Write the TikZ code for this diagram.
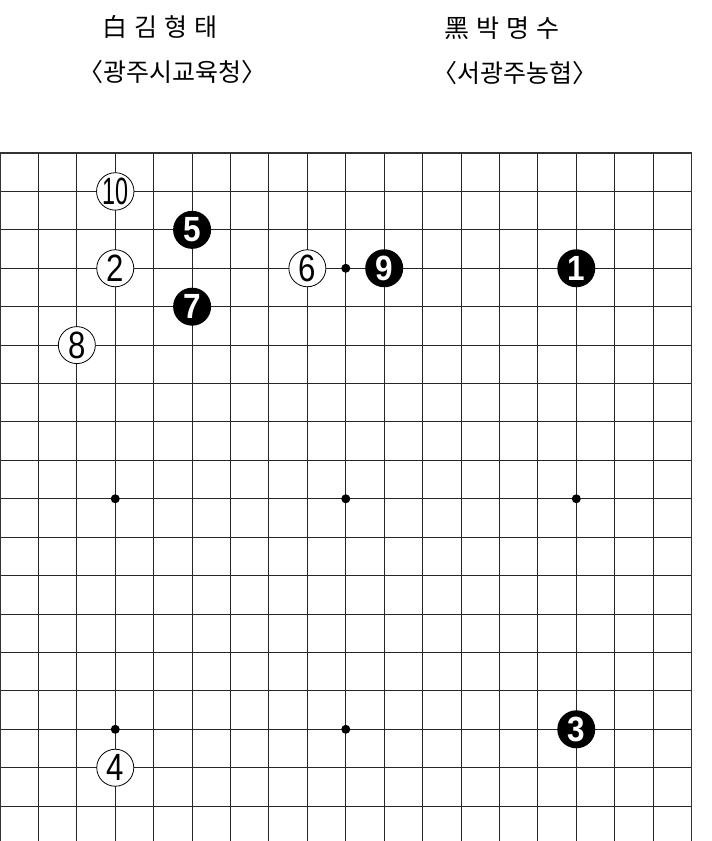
\documentclass[tikz,border=0pt]{standalone}
\usepackage{fontspec}
\usepackage{graphicx}
\newfontfamily\kr{Noto Sans CJK KR}
\newfontfamily\numw[FakeStretch=0.82]{Liberation Sans}
\newfontfamily\numb[FakeStretch=0.9]{Liberation Sans}
\begin{document}
\begin{tikzpicture}[x=1pt,y=-1pt,
  hdr/.style={font=\kr\fontsize{25}{29}\selectfont, inner sep=0, anchor=center},
  gridline/.style={line width=0.9pt, black!85},
  border/.style={line width=1.8pt, black!80},
  wstone/.style={circle, draw=black, line width=0.8pt, fill=white, minimum size=37pt, inner sep=0, font=\numw\fontsize{38}{38}\selectfont},
  bstone/.style={circle, fill=black, minimum size=38pt, inner sep=0, text=white, font=\numb\bfseries\fontsize{35}{35}\selectfont},
  stardot/.style={circle, fill=black, minimum size=9pt, inner sep=0}]
\useasboundingbox (0,0) rectangle (712,841);
\fill[white] (0,0) rectangle (712,841);
% headers
\node[hdr] (wname) at (160,27) {白\hspace{7pt}김\hspace{7pt}형\hspace{7pt}태};
\node[hdr] (wclub) at (172,72) {〈광주시교육청〉};
\node[hdr] (bname) at (501.5,28) {黑\hspace{7pt}박\hspace{7pt}명\hspace{7pt}수};
\node[hdr] (bclub) at (515,73) {〈서광주농협〉};
% board
\begin{scope}[shift={(0,153)}, x=38.42pt, y=-38.42pt]
  \foreach \i in {1,...,17} \draw[gridline] (\i,0) -- (\i,17.95);
  \foreach \j in {1,...,17} \draw[gridline] (0,\j) -- (18,\j);
  \draw[border] (0,17.95) -- (0,0) -- (18,0) -- (18,17.95);
  \foreach \c/\r/\n in {9/3/s1, 3/9/s2, 9/9/s3, 15/9/s4, 3/15/s5, 9/15/s6}
    \node[stardot] (\n) at (\c,\r) {};
  \node[wstone] (w10) at (3,1) {\scalebox{0.75}[1]{10}};
  \node[bstone] (b5) at (5,2) {5};
  \node[wstone] (w2) at (3,3) {2};
  \node[bstone] (b7) at (5,4) {7};
  \node[wstone] (w8) at (2,5) {8};
  \node[wstone] (w6) at (8,3) {6};
  \node[bstone] (b9) at (10,3) {9};
  \node[bstone] (b1) at (15,3) {1};
  \node[bstone] (b3) at (15,15) {3};
  \node[wstone] (w4) at (3,16) {4};
\end{scope}
\end{tikzpicture}
\end{document}
